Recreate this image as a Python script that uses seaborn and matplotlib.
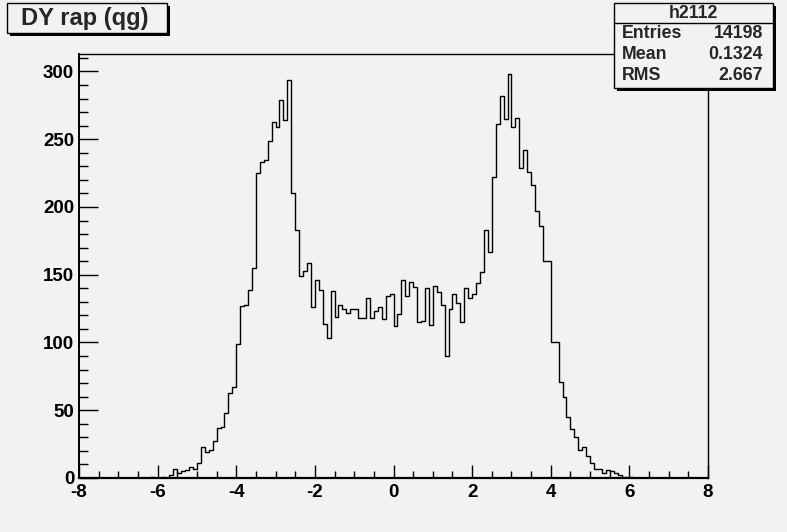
import numpy as np
import pandas as pd
import matplotlib
matplotlib.use("Agg")
import matplotlib.pyplot as plt
from matplotlib.patches import Rectangle
from matplotlib.ticker import MultipleLocator
import seaborn as sns

# ---- data (histogram "h2112": DY rapidity, qg channel), bin width 0.1 ----
first_bin_low = -6.2
bin_width = 0.1
counts = [
    1, 0, 0, 1, 0, 2, 7, 4, 5, 6,            # -6.2 .. -5.3
    8, 7, 11, 23, 19, 21, 27, 37, 38, 48,    # -5.2 .. -4.3
    63, 67, 99, 127, 128, 139, 155, 225, 233, 235,   # -4.2 .. -3.3
    249, 263, 259, 279, 264, 294, 210, 183, 149, 153,  # -3.2 .. -2.3
    159, 126, 146, 139, 114, 103, 138, 119, 128, 125,  # -2.2 .. -1.3
    122, 125, 125, 118, 118, 133, 118, 123, 126, 117,  # -1.2 .. -0.3
    134, 136, 112, 121, 146, 134, 145, 141, 115, 116,  # -0.2 .. 0.7
    140, 113, 142, 137, 128, 90, 125, 136, 129, 115,   # 0.8 .. 1.7
    140, 133, 136, 144, 152, 183, 167, 222, 261, 282,  # 1.8 .. 2.7
    265, 298, 259, 266, 229, 242, 226, 216, 197, 186,  # 2.8 .. 3.7
    160, 160, 100, 100, 71, 60, 45, 36, 30, 21,        # 3.8 .. 4.7
    23, 16, 11, 7, 7, 4, 6, 5, 4, 2,                   # 4.8 .. 5.7
    1, 1, 1,                                           # 5.8 .. 6.0
]
x_range = (-8, 8)
x_ticks = [-8, -6, -4, -2, 0, 2, 4, 6, 8]
y_ticks = [0, 50, 100, 150, 200, 250, 300]
title = "DY rap (qg)"
stats_name = "h2112"
stats_rows = [("Entries", "14198"), ("Mean", "0.1324"), ("RMS", "2.667")]

centers = first_bin_low + bin_width / 2 + bin_width * np.arange(len(counts))
df = pd.DataFrame({"rap": centers, "n": counts})

# ---- style ----
sns.set_style("ticks")
BG = "#f2f2f2"
plt.rcParams["font.family"] = ["Liberation Sans", "DejaVu Sans"]
plt.rcParams["font.weight"] = "bold"
plt.rcParams["axes.unicode_minus"] = False

W, H = 787, 532
fig = plt.figure(figsize=(W / 100, H / 100), dpi=100, facecolor=BG)
L, R, T, B = 79, 708, 54, 478
ax = fig.add_axes([L / W, 1 - B / H, (R - L) / W, (B - T) / H], facecolor=BG)

sns.histplot(data=df, x="rap", weights="n", binwidth=bin_width, binrange=x_range,
             element="step", fill=False, color="black", linewidth=1.0, ax=ax)

ax.set_xlim(*x_range)
ax.set_ylim(0, max(counts) * 1.05)
ax.set_xlabel("")
ax.set_ylabel("")
ax.set_xticks(x_ticks)
ax.set_yticks(y_ticks)
ax.xaxis.set_minor_locator(MultipleLocator(0.5))
ax.yaxis.set_minor_locator(MultipleLocator(10))
for s in ax.spines.values():
    s.set_color("black")
    s.set_linewidth(1.0)
ax.spines["left"].set_linewidth(1.4)
ax.spines["bottom"].set_linewidth(1.6)

ax.tick_params(axis="x", which="major", direction="in", length=9.4, width=1.0,
               colors="black", labelsize=13.5, pad=4.5, top=False)
ax.tick_params(axis="x", which="minor", direction="in", length=4.7, width=1.0,
               colors="black", top=False)
ax.tick_params(axis="y", which="major", direction="in", length=13.7, width=1.0,
               colors="black", labelsize=13.5, pad=3.5, right=False)
ax.tick_params(axis="y", which="minor", direction="in", length=6.8, width=1.0,
               colors="black", right=False)
for lab in ax.get_xticklabels() + ax.get_yticklabels():
    lab.set_fontweight("bold")


def px_box(x0, y0, x1, y1, shadow):
    fig.patches.append(Rectangle(((x0 + shadow) / W, 1 - (y1 + shadow) / H),
                                 (x1 - x0) / W, (y1 - y0) / H, transform=fig.transFigure,
                                 facecolor="black", edgecolor="none", zorder=5))
    fig.patches.append(Rectangle((x0 / W, 1 - y1 / H), (x1 - x0) / W, (y1 - y0) / H,
                                 transform=fig.transFigure, facecolor=BG,
                                 edgecolor="black", linewidth=1.0, zorder=6))


# title box
px_box(7, 3, 167, 33, 2.5)
fig.text(21 / W, 1 - 18.5 / H, title, fontsize=17, fontweight="bold",
         ha="left", va="center", zorder=7)

# stats box
px_box(614, 3, 773, 88, 3)
fig.add_artist(plt.Line2D([614 / W, 773 / W], [1 - 23 / H, 1 - 23 / H],
                          transform=fig.transFigure, color="black", linewidth=1.0, zorder=7))
fig.text(693.5 / W, 1 - 13 / H, stats_name, fontsize=12.8, fontweight="bold",
         ha="center", va="center", zorder=7)
for i, (k, v) in enumerate(stats_rows):
    yy = 1 - (33 + 21.5 * i) / H
    fig.text(622 / W, yy, k, fontsize=12.8, fontweight="bold", ha="left", va="center", zorder=7)
    fig.text(763 / W, yy, v, fontsize=12.8, fontweight="bold", ha="right", va="center", zorder=7)

fig.savefig("out.png", dpi=100, facecolor=BG)
